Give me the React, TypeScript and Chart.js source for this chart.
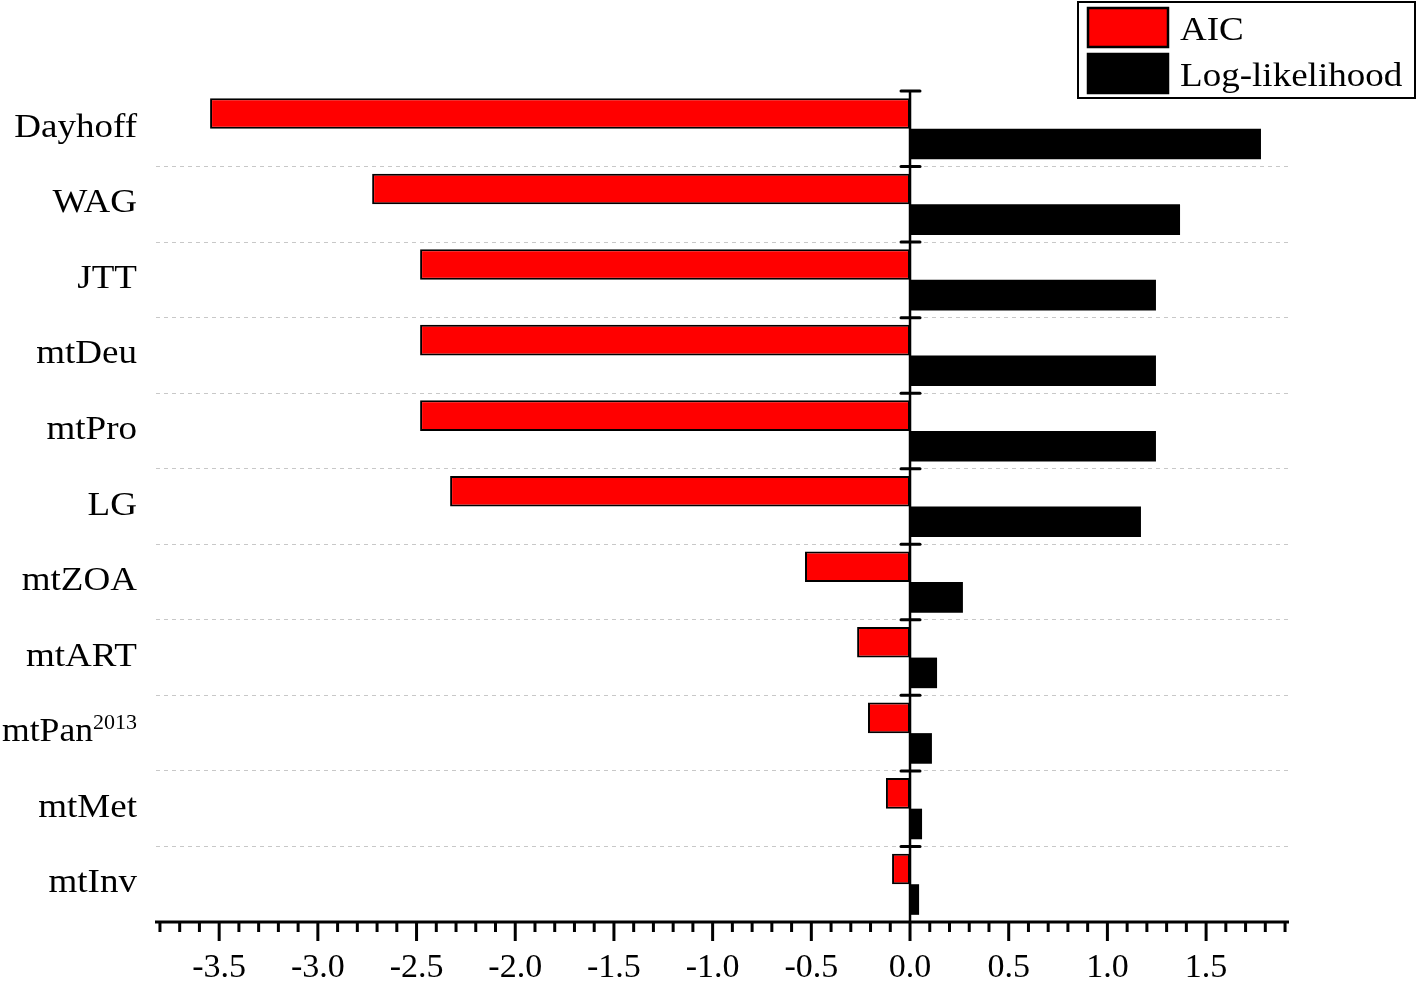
import React, { useEffect, useRef } from "react";
import { Chart, registerables } from "chart.js";

Chart.register(...registerables);

// "^" marks the start of a superscript part of the label
const categories = ["Dayhoff", "WAG", "JTT", "mtDeu", "mtPro", "LG", "mtZOA", "mtART", "mtPan^2013", "mtMet", "mtInv"];
const aicValues = [-3.546, -2.725, -2.482, -2.482, -2.482, -2.33, -0.532, -0.268, -0.213, -0.122, -0.091];
const llValues = [1.778, 1.368, 1.246, 1.246, 1.246, 1.17, 0.268, 0.137, 0.111, 0.061, 0.046];
const seriesLabels = ["AIC", "Log-likelihood"];
const seriesColors = ["#ff0000", "#000000"];
const xMin = -3.82;
const xMax = 1.92;
const tickStepsTenths = { from: -38, to: 19 };

const FONT = "'Liberation Serif', 'Times New Roman', serif";
const FSIZE = 34;
const SX = 1.09;

const axesPlugin = {
  id: "customAxes",
  afterDatasetsDraw(chart: any) {
    const { ctx, chartArea, scales } = chart;
    const xs = scales.x;
    const ys = scales.y;
    ctx.save();
    ctx.strokeStyle = "#000";
    const x0 = xs.getPixelForValue(0);
    ctx.lineWidth = 2.5;
    ctx.beginPath();
    ctx.moveTo(x0, chartArea.top);
    ctx.lineTo(x0, chartArea.bottom);
    ctx.stroke();
    const band = ys.getPixelForValue(1) - ys.getPixelForValue(0);
    ctx.lineWidth = 3;
    ctx.lineCap = "round";
    for (let i = 0; i < categories.length; i++) {
      const y = ys.getPixelForValue(i) - band / 2;
      ctx.beginPath();
      ctx.moveTo(x0 - 9, y);
      ctx.lineTo(x0 + 10, y);
      ctx.stroke();
    }
    ctx.lineCap = "butt";
    ctx.lineWidth = 3;
    ctx.beginPath();
    ctx.moveTo(chartArea.left - 1, chartArea.bottom);
    ctx.lineTo(chartArea.right, chartArea.bottom);
    ctx.stroke();
    for (let t = tickStepsTenths.from; t <= tickStepsTenths.to; t++) {
      const x = xs.getPixelForValue(t / 10);
      const len = t % 5 === 0 ? 19 : 10;
      ctx.beginPath();
      ctx.moveTo(x, chartArea.bottom);
      ctx.lineTo(x, chartArea.bottom + len);
      ctx.stroke();
    }
    // category labels (with superscript support)
    ctx.fillStyle = "#000";
    ctx.textAlign = "left";
    ctx.textBaseline = "alphabetic";
    const labels: string[] = chart.data.labels;
    const rightEdge = chartArea.left - 19;
    labels.forEach((lab: string, i: number) => {
      const [base, sup] = lab.split("^");
      const yc = ys.getPixelForValue(i) + 8;
      ctx.font = `${FSIZE}px ${FONT}`;
      const m1 = ctx.measureText(base).width;
      let m2 = 0;
      if (sup) {
        ctx.font = `21px ${FONT}`;
        m2 = ctx.measureText(sup).width;
      }
      let sx = SX;
      const maxW = rightEdge - 2;
      if ((m1 + m2) * sx > maxW) sx = maxW / (m1 + m2);
      const start = rightEdge - (m1 + m2) * sx;
      ctx.save();
      ctx.translate(start, yc);
      ctx.scale(sx, 1);
      ctx.font = `${FSIZE}px ${FONT}`;
      ctx.fillText(base, 0, 0);
      if (sup) {
        ctx.font = `21px ${FONT}`;
        ctx.fillText(sup, m1, -12);
      }
      ctx.restore();
    });
    ctx.restore();
  },
  afterDraw(chart: any) {
    const { ctx } = chart;
    ctx.save();
    ctx.fillStyle = "#fff";
    ctx.fillRect(1078, 2, 337, 96);
    ctx.strokeStyle = "#000";
    ctx.lineWidth = 2;
    ctx.strokeRect(1078, 2, 337, 96);
    chart.data.datasets.forEach((ds: any, i: number) => {
      const top = 8 + i * 46;
      ctx.fillStyle = ds.backgroundColor;
      ctx.fillRect(1088, top, 80, 39);
      ctx.strokeStyle = "#000";
      ctx.lineWidth = 2.5;
      ctx.strokeRect(1088, top, 80, 39);
      ctx.fillStyle = "#000";
      ctx.font = `${FSIZE}px ${FONT}`;
      ctx.textBaseline = "alphabetic";
      ctx.textAlign = "left";
      ctx.save();
      ctx.translate(1180, top + 32);
      ctx.scale(1.09, 1);
      ctx.fillText(ds.label, 0, 0);
      ctx.restore();
    });
    ctx.restore();
  },
};

export default function App() {
  const ref = useRef<HTMLCanvasElement | null>(null);
  useEffect(() => {
    document.body.style.margin = "0";
    const canvas = ref.current!;
    const chart = new Chart(canvas, {
      type: "bar",
      data: {
        labels: categories,
        datasets: [
          {
            label: seriesLabels[0],
            data: aicValues,
            backgroundColor: seriesColors[0],
            borderColor: "#000",
            borderWidth: 2,
            borderSkipped: false,
          },
          {
            label: seriesLabels[1],
            data: llValues,
            backgroundColor: seriesColors[1],
            borderColor: "#000",
            borderWidth: 0,
            borderSkipped: false,
          },
        ],
      },
      options: {
        indexAxis: "y",
        animation: false,
        responsive: false,
        maintainAspectRatio: false,
        layout: { padding: { top: 91, right: 129, left: 0, bottom: 0 } },
        datasets: { bar: { barPercentage: 1, categoryPercentage: 0.81 } },
        plugins: { legend: { display: false }, tooltip: { enabled: false } },
        scales: {
          x: {
            type: "linear",
            min: xMin,
            max: xMax,
            grid: { display: false, drawTicks: false },
            border: { display: false },
            afterBuildTicks: (scale: any) => {
              const t: any[] = [];
              for (let v = tickStepsTenths.from; v <= tickStepsTenths.to; v++) t.push({ value: v / 10 });
              scale.ticks = t;
            },
            afterFit: (scale: any) => {
              scale.height = 60;
            },
            ticks: {
              autoSkip: false,
              maxRotation: 0,
              minRotation: 0,
              padding: 26,
              color: "#000",
              font: { family: FONT, size: FSIZE },
              callback: (value: any) => {
                const t = Math.round(Number(value) * 10);
                return t % 5 === 0 ? (t / 10).toFixed(1) : "";
              },
            },
          },
          y: {
            type: "category",
            offset: true,
            grid: {
              offset: true,
              drawTicks: false,
              lineWidth: 1,
              color: (c: any) => (c.index === 0 ? "rgba(0,0,0,0)" : "#c8c8c8"),
            },
            border: { display: false, dash: [4, 4] },
            afterFit: (scale: any) => {
              scale.width = 156;
            },
            ticks: { display: false },
          },
        },
      },
      plugins: [axesPlugin],
    });
    return () => chart.destroy();
  }, []);
  return <canvas ref={ref} width={1418} height={982} style={{ display: "block" }} />;
}
